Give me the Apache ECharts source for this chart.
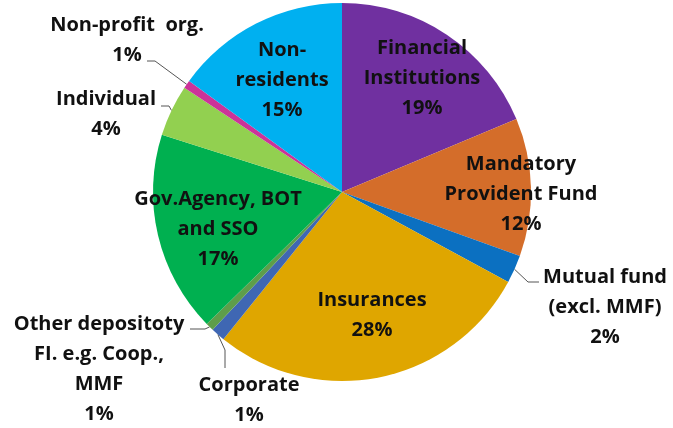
<!DOCTYPE html>
<html>
<head>
<meta charset="utf-8">
<script src="https://cdn.jsdelivr.net/npm/echarts@6/dist/echarts.min.js"></script>
<style>
  html, body { margin: 0; padding: 0; background: #fff; }
  #chart { width: 673px; height: 428px; }
</style>
</head>
<body>
<div id="chart"></div>
<script>
// holders, clockwise from 12 o'clock
var categories = [
  'Financial\nInstitutions',
  'Mandatory\nProvident Fund',
  'Mutual fund\n(excl. MMF)',
  'Insurances',
  'Corporate',
  'Other depositoty\nFI. e.g. Coop.,\nMMF',
  'Gov.Agency, BOT\nand SSO',
  'Individual',
  'Non-profit  org.',
  'Non-\nresidents'
];
var shares = [18.7, 11.8, 2.4, 27.9, 1.2, 0.7, 17.2, 4.4, 0.7, 15.0];
var colors = ['#7030A0', '#D46D2A', '#0B70C1', '#DFA600', '#3F67B3',
              '#5E9E4A', '#00B050', '#92D050', '#CC3399', '#00B0F0'];
var insideLabels = [0, 1, 3, 6, 9];

// label anchors (text block centres) and leader line bends
var labelPos = [
  [422, 78], [521, 194], [605, 307], [372, 315], [249, 400],
  [99, 369], [218, 229], [106, 114], [127, 40], [282, 80]
];
var leaderBends = {
  2: [[528, 282], [539, 282]],
  4: [[225, 350], [225, 368]],
  5: [[205, 329], [190, 329]],
  7: [[169, 106], [161, 106]],
  8: [[155, 61], [147, 61]]
};

var chart = echarts.init(document.getElementById('chart'));

var option = {
  animation: false,
  series: [{
    type: 'pie',
    center: [342, 192],
    radius: 189,
    startAngle: 90,
    clockwise: true,
    avoidLabelOverlap: false,
    percentPrecision: 0,
    label: {
      show: true,
      position: 'outside',
      formatter: '{b}\n{d}%',
      fontFamily: 'Open Sans',
      fontWeight: 'bold',
      fontSize: 20,
      lineHeight: 30,
      color: '#111',
      align: 'center'
    },
    labelLine: {
      show: true,
      lineStyle: { color: '#555', width: 1 }
    },
    labelLayout: function (p) {
      var pos = labelPos[p.dataIndex];
      var out = { x: pos[0], y: pos[1], align: 'center', verticalAlign: 'middle' };
      var bend = leaderBends[p.dataIndex];
      if (bend && p.labelLinePoints) {
        out.labelLinePoints = [p.labelLinePoints[0]].concat(bend);
      }
      return out;
    },
    data: categories.map(function (name, i) {
      var inside = insideLabels.indexOf(i) >= 0;
      return {
        name: name,
        value: shares[i],
        itemStyle: { color: colors[i] },
        label: inside ? { position: 'inside' } : undefined,
        labelLine: inside ? { show: false } : undefined
      };
    })
  }]
};

chart.setOption(option);
</script>
</body>
</html>
